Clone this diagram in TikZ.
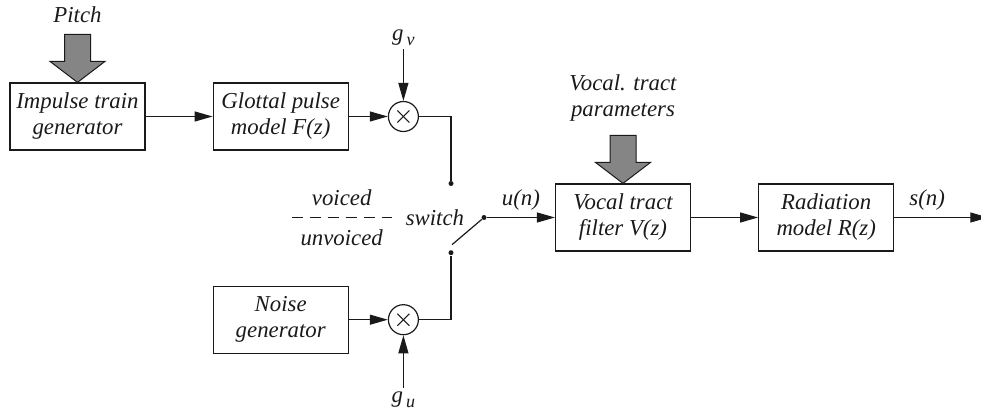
\documentclass[tikz,border=0pt]{standalone}
\usepackage{fontspec}
\setmainfont{Liberation Serif}
\usetikzlibrary{arrows.meta,positioning,calc}
\definecolor{Ink}{HTML}{1A1A1A}
\definecolor{Lever}{HTML}{858585}
\tikzset{
  blockbox/.style={draw=Ink,line width=0.6pt,minimum width=67.5pt,minimum height=33.5pt,align=center,font=\fontsize{11.4}{13}\selectfont\itshape,text=Ink,inner sep=1pt},
  mixer/.style={draw=Ink,line width=0.6pt,circle,minimum size=15pt,inner sep=0pt,
    path picture={
      \draw[Ink,line width=0.5pt] ([shift={(-3pt,-3pt)}]path picture bounding box.center) -- ([shift={(3pt,3pt)}]path picture bounding box.center);
      \draw[Ink,line width=0.5pt] ([shift={(-3pt,3pt)}]path picture bounding box.center) -- ([shift={(3pt,-3pt)}]path picture bounding box.center);
    }},
  tapdot/.style={circle,fill=Ink,inner sep=0pt,minimum size=2.5pt},
  lbl/.style={font=\fontsize{11.4}{13}\selectfont\itshape,text=Ink,align=center},
  line/.style={-{Triangle[length=9pt,width=5pt]},draw=Ink,line width=0.6pt},
  wire/.style={draw=Ink,line width=0.6pt},
  divider/.style={draw=Ink,line width=0.5pt,dash pattern=on 5.5pt off 3.5pt},
  fatarrow/.pic={
    \draw[draw=Ink,fill=Lever,line width=0.5pt] (0,0) -- (13.75pt,10.5pt) -- (6.5pt,10.5pt) -- (6.5pt,24pt) -- (-6.5pt,24pt) -- (-6.5pt,10.5pt) -- (-13.75pt,10.5pt) -- cycle;
    \coordinate (-top) at (0,24pt);
  }
}

\begin{document}
\begin{tikzpicture}[node distance=33.5pt and 33.5pt]
  \useasboundingbox (0,0) rectangle (490.5pt,-208pt);
  \node[blockbox] (impulse) at (38.75pt,-58.25pt) {Impulse train\\generator};
  \node[blockbox,right=of impulse] (glottal) {Glottal pulse\\model F(z)};
  \node[mixer,right=19.5pt of glottal] (multv) {};
  \node[blockbox,below=67.5pt of glottal] (noise) {Noise\\generator};
  \node[mixer,right=19.5pt of noise] (multu) {};
  \node[lbl,inner sep=1.5pt,above=26pt of multv] (gv) {g\raisebox{-0.5ex}{\fontsize{9}{9}\selectfont\,v}};
  \node[lbl,inner sep=1.5pt,below=26.5pt of multu] (gu) {g\raisebox{-0.5ex}{\fontsize{9}{9}\selectfont\,u}};
  \pic (pitcharrow) at (impulse.north) {fatarrow};
  \node[lbl,above=2.2pt of pitcharrow-top] (pitch) {Pitch};
  % switch
  \node[tapdot] (topdot) at ($(multv.east)+(16pt,-33.5pt)$) {};
  \node[tapdot] (botdot) at ($(multu.east)+(16pt,33.5pt)$) {};
  \node[tapdot] (pivot) at ($(topdot)+(16.5pt,-17pt)$) {};
  \coordinate (bladeend) at ($(botdot)+(0.5pt,4pt)$);
  \node[lbl,left=5pt of pivot] (switch) {switch};
  \coordinate[left=3.5pt of switch] (dashr);
  \coordinate[left=50pt of dashr] (dashl);
  \coordinate (dashmid) at ($(dashl)!0.5!(dashr)$);
  \node[lbl,above=2.5pt of dashmid] (voiced) {voiced};
  \node[lbl,below=2.5pt of dashmid] (unvoiced) {unvoiced};
  % vocal tract
  \node[blockbox,right=34pt of pivot] (vocal) {Vocal tract\\filter V(z)};
  \node[blockbox,right=of vocal] (radiation) {Radiation\\model R(z)};
  \coordinate[right=47pt of radiation] (out);
  \pic (vtarrow) at (vocal.north) {fatarrow};
  \node[lbl,above=3.7pt of vtarrow-top] (vtparams) {Vocal. tract\\parameters};
  \draw[line] (impulse) -- (glottal);
  \draw[line] (glottal) -- (multv);
  \draw[line] (gv) -- (multv);
  \draw[wire] (multv) -| (topdot);
  \draw[line] (noise) -- (multu);
  \draw[line] (gu) -- (multu);
  \draw[wire] (multu) -| (botdot);
  \draw[wire] (pivot) -- (bladeend);
  \draw[divider] (dashl) -- (dashr);
  \draw[line] (pivot) -- node[lbl,above] (un) {u(n)} (vocal);
  \draw[line] (vocal) -- (radiation);
  \draw[line] (radiation) -- node[lbl,above,pos=0.35] (sn) {s(n)} (out);
\end{tikzpicture}
\end{document}
